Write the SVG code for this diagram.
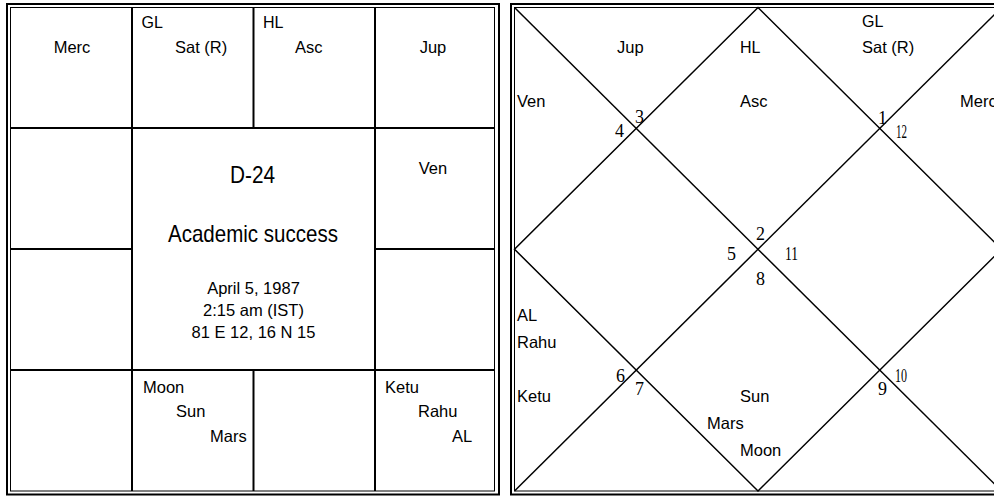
<svg xmlns="http://www.w3.org/2000/svg" width="994" height="496" viewBox="0 0 994 496">
<style>
.frame{fill:none;stroke:#000;stroke-width:2}
.frame1{fill:none;stroke:#000;stroke-width:1}
.grid{stroke:#000;stroke-width:2;fill:none}
.diag{stroke:#000;stroke-width:1.5;fill:none}
text{font-family:"Liberation Sans",Arial,sans-serif;fill:#000}
.p{font-size:16.5px}
.s{font-size:16px}
.big{font-size:24px}
.num{font-family:"Liberation Serif","Times New Roman",serif;font-size:18px}
</style>
<rect width="994" height="496" fill="#fff"/>
<g id="south-chart">
  <rect class="frame" x="7" y="4" width="492" height="490.5"/>
  <rect class="frame1" x="10.5" y="7.5" width="484" height="483.5"/>
  <g id="south-grid">
    <line class="grid" x1="132" y1="7.5" x2="132" y2="491"/>
    <line class="grid" x1="375" y1="7.5" x2="375" y2="491"/>
    <line class="grid" x1="253.5" y1="7.5" x2="253.5" y2="128"/>
    <line class="grid" x1="253.5" y1="370" x2="253.5" y2="491"/>
    <line class="grid" x1="10.5" y1="128" x2="494.5" y2="128"/>
    <line class="grid" x1="10.5" y1="370" x2="494.5" y2="370"/>
    <line class="grid" x1="10.5" y1="249" x2="132" y2="249"/>
    <line class="grid" x1="375" y1="249" x2="494.5" y2="249"/>
  </g>
  <g id="s-h12"><text class="p" x="72" y="53" text-anchor="middle">Merc</text></g>
  <g id="s-h1"><text class="s" x="141.5" y="28">GL</text><text class="p" x="175" y="53">Sat (R)</text></g>
  <g id="s-h2"><text class="s" x="263" y="28">HL</text><text class="p" x="295" y="53">Asc</text></g>
  <g id="s-h3"><text class="p" x="433" y="53" text-anchor="middle">Jup</text></g>
  <g id="s-h4"><text class="p" x="433" y="174" text-anchor="middle">Ven</text></g>
  <g id="s-h8"><text class="p" x="143" y="393">Moon</text><text class="p" x="176" y="417">Sun</text><text class="p" x="210" y="442">Mars</text></g>
  <g id="s-h6"><text class="p" x="385" y="393">Ketu</text><text class="p" x="418" y="417">Rahu</text><text class="p" x="452" y="442">AL</text></g>
  <g id="s-center">
    <text class="big" x="230" y="183" textLength="45" lengthAdjust="spacingAndGlyphs">D-24</text>
    <text class="big" x="168" y="242" textLength="170" lengthAdjust="spacingAndGlyphs">Academic success</text>
    <text class="p" x="253.5" y="294" text-anchor="middle">April 5, 1987</text>
    <text class="p" x="253.5" y="316" text-anchor="middle">2:15 am (IST)</text>
    <text class="p" x="253.5" y="338" text-anchor="middle">81 E 12, 16 N 15</text>
  </g>
</g>
<g id="north-chart">
  <rect class="frame" x="511" y="4" width="495" height="490.5"/>
  <rect class="frame1" x="514.5" y="7.5" width="487" height="483.5"/>
  <g id="north-lines">
    <polygon class="diag" points="758,7.5 1001.5,249.25 758,491 514.5,249.25"/>
    <line class="diag" x1="514.5" y1="7.5" x2="1001.5" y2="491"/>
    <line class="diag" x1="1001.5" y1="7.5" x2="514.5" y2="491"/>
  </g>
  <g id="n-labels">
    <text class="p" x="617" y="53">Jup</text>
    <text class="s" x="740" y="53">HL</text>
    <text class="p" x="740" y="107">Asc</text>
    <text class="s" x="862" y="27">GL</text>
    <text class="p" x="862" y="53">Sat (R)</text>
    <text class="p" x="960" y="107">Merc</text>
    <text class="p" x="517" y="107">Ven</text>
    <text class="p" x="517" y="321">AL</text>
    <text class="p" x="517" y="348">Rahu</text>
    <text class="p" x="517" y="402">Ketu</text>
    <text class="p" x="740" y="402">Sun</text>
    <text class="p" x="707" y="429">Mars</text>
    <text class="p" x="740" y="456">Moon</text>
  </g>
  <g id="n-numbers">
    <text class="num" x="615" y="137">4</text>
    <text class="num" x="635" y="123">3</text>
    <text class="num" x="878" y="124">1</text>
    <text class="num" x="896" y="138" textLength="11" lengthAdjust="spacingAndGlyphs">12</text>
    <text class="num" x="727" y="260">5</text>
    <text class="num" x="756" y="240">2</text>
    <text class="num" x="785" y="260" textLength="13" lengthAdjust="spacingAndGlyphs">11</text>
    <text class="num" x="756" y="285">8</text>
    <text class="num" x="616" y="382">6</text>
    <text class="num" x="635" y="395">7</text>
    <text class="num" x="878" y="395">9</text>
    <text class="num" x="895" y="382" textLength="12" lengthAdjust="spacingAndGlyphs">10</text>
  </g>
</g>
</svg>
